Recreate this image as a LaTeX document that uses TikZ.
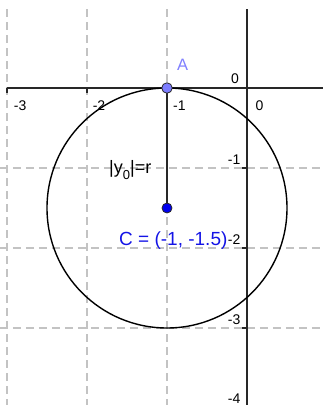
\documentclass[tikz,border=0pt]{standalone}
\usepackage{fontspec}
\setmainfont{Liberation Sans}
\definecolor{gridc}{RGB}{195,195,195}
\definecolor{axisc}{RGB}{40,40,40}
\definecolor{ptA}{RGB}{125,125,255}
\definecolor{ptC}{RGB}{0,0,240}
\definecolor{labA}{RGB}{128,128,255}
\definecolor{labC}{RGB}{20,20,230}
\begin{document}
\begin{tikzpicture}[x=80pt,y=80pt,
  gridline/.style={gridc, line width=1.3pt, dash pattern=on 8pt off 5pt},
  axisline/.style={axisc, line width=1.6pt},
  tickmark/.style={axisc, line width=1.6pt},
  xlab/.style={anchor=base west, inner sep=0pt, font=\fontsize{14}{14}\selectfont},
  ylab/.style={anchor=base east, inner sep=0pt, font=\fontsize{14}{14}\selectfont},
  ptstyle/.style={circle, draw=axisc, line width=0.8pt, inner sep=0pt}
]
\useasboundingbox (-3.0875,-3.9625) rectangle (0.95,1.1);
% grid
\foreach \gx in {-3,-2,-1}
  \draw[gridline] (\gx,0.9875) -- (\gx,-3.9625);
\foreach \gy in {-1,-2,-3}
  \draw[gridline] (-3.0875,\gy) -- (0.95,\gy);
% axes
\coordinate (xl) at (-3.0,0);
\coordinate (xr) at (0.95,0);
\coordinate (yt) at (0,0.9875);
\coordinate (yb) at (0,-3.9625);
\draw[axisline] (xl) -- (xr);
\draw[axisline] (yt) -- (yb);
\foreach \gx in {-3,-2,-1}
  \draw[tickmark] (\gx,0) -- (\gx,-0.0625);
\foreach \gy in {-1,-2,-3}
  \draw[tickmark] (0,\gy) -- (-0.0625,\gy);
% axis labels
\node[xlab] (lxm3) at (-2.915,-0.275) {-3};
\node[xlab] (lxm2) at (-1.93,-0.275) {-2};
\node[xlab] (lxm1) at (-0.925,-0.275) {-1};
\node[xlab] (lx0) at (0.105,-0.275) {0};
\node[ylab] (ly0) at (-0.1,0.0625) {0};
\node[ylab] (lym1) at (-0.08,-0.95) {-1};
\node[ylab] (lym2) at (-0.08,-1.96) {-2};
\node[ylab] (lym3) at (-0.08,-2.96) {-3};
\node[ylab] (lym4) at (-0.08,-3.94) {-4};
% geometry
\coordinate (C) at (-1,-1.5);
\coordinate (A) at (-1,0);
\draw[black, line width=1.4pt] (C) circle[radius=1.5];
\draw[axisc, line width=1.8pt] (A) -- (C);
\node[ptstyle, fill=ptA, minimum size=10.5pt] (pA) at (A) {};
\node[ptstyle, fill=ptC, minimum size=10pt] (pC) at (C) {};
% labels
\node[anchor=base west, inner sep=0pt, text=labA, font=\fontsize{16.5}{16.5}\selectfont] (labelA) at (-0.875,0.225) {A};
\node[anchor=base west, inner sep=0pt, text=labC, font=\fontsize{19}{19}\selectfont] (labelC) at (-1.6,-1.9625) {C = (-1, -1.5)};
\node[anchor=base west, inner sep=0pt, font=\fontsize{18}{18}\selectfont] (labelr) at (-1.725,-1.07) {|y\raisebox{-0.3em}{\fontsize{13}{13}\selectfont 0}|=r};
\end{tikzpicture}
\end{document}
